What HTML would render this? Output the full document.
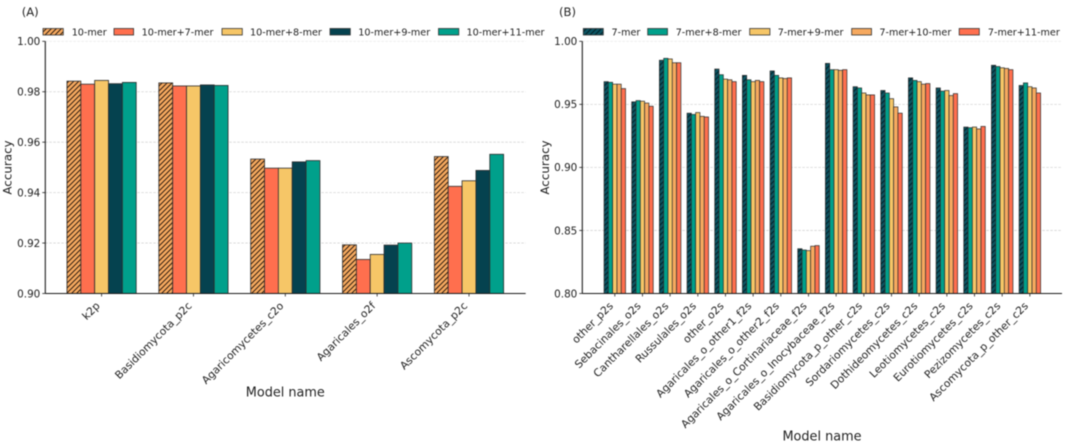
<!DOCTYPE html>
<html lang="en">
<head>
<meta charset="utf-8">
<title>Model accuracy bar charts</title>
<style>
  html, body { margin: 0; padding: 0; background: #fff; }
  body { width: 1065px; height: 447px; overflow: hidden; }
  svg { display: block; filter: blur(0.4px); }
  text { font-family: "DejaVu Sans", "Liberation Sans", sans-serif; fill: #222; }
  .leg { font-size: 9.65px; }
  .tick { font-size: 10.4px; }
  .cat { font-size: 10.7px; }
  .title { font-size: 12.85px; }
  .ytitle { font-size: 11.9px; }
  .panel { font-size: 11.6px; }
</style>
</head>
<body>
<svg id="figure" width="1065" height="447" viewBox="0 0 1065 447" xmlns="http://www.w3.org/2000/svg">
  <defs>
    <pattern id="hatch-orange" patternUnits="userSpaceOnUse" width="5" height="5">
      <rect width="5" height="5" fill="#F6A95F"/>
      <path d="M-1,1 L1,-1 M0,5 L5,0 M4,6 L6,4" stroke="#1f120a" stroke-width="0.95"/>
    </pattern>
    <pattern id="hatch-teal" patternUnits="userSpaceOnUse" width="5" height="5">
      <rect width="5" height="5" fill="#0B5563"/>
      <path d="M-1,1 L1,-1 M0,5 L5,0 M4,6 L6,4" stroke="#03222B" stroke-width="1.1"/>
    </pattern>
  </defs>

  <text class="panel" x="21.7" y="16">(A)</text>
  <text class="panel" x="559" y="16">(B)</text>

  <g id="panel-a"></g>
  <g id="panel-b"></g>

  <g>
    <g><rect x="43" y="28.5" width="20.3" height="6.5" fill="url(#hatch-orange)" stroke="#333" stroke-width="0.8"/><text class="leg" x="71.7" y="35.3">10-mer</text></g>
    <g><rect x="114" y="28.5" width="19.6" height="6.5" fill="#FF6F4E" stroke="#333" stroke-width="0.8"/><text class="leg" x="141.6" y="35.3">10-mer+7-mer</text></g>
    <g><rect x="222" y="28.5" width="20.3" height="6.5" fill="#F6C667" stroke="#333" stroke-width="0.8"/><text class="leg" x="250" y="35.3">10-mer+8-mer</text></g>
    <g><rect x="330" y="28.5" width="20.3" height="6.5" fill="#05424F" stroke="#333" stroke-width="0.8"/><text class="leg" x="358.3" y="35.3">10-mer+9-mer</text></g>
    <g><rect x="438.5" y="28.5" width="20.3" height="6.5" fill="#00A08B" stroke="#333" stroke-width="0.8"/><text class="leg" x="466.5" y="35.3">10-mer+11-mer</text></g>
  </g>
  <g>
    <g><rect x="583.3" y="28.5" width="20" height="6.5" fill="url(#hatch-teal)" stroke="#333" stroke-width="0.8"/><text class="leg" x="611.5" y="35.3">7-mer</text></g>
    <g><rect x="647.7" y="28.5" width="19.8" height="6.5" fill="#00A08B" stroke="#333" stroke-width="0.8"/><text class="leg" x="675.7" y="35.3">7-mer+8-mer</text></g>
    <g><rect x="749.7" y="28.5" width="20.2" height="6.5" fill="#F6C667" stroke="#333" stroke-width="0.8"/><text class="leg" x="777.7" y="35.3">7-mer+9-mer</text></g>
    <g><rect x="851.7" y="28.5" width="19.8" height="6.5" fill="#F6A95F" stroke="#333" stroke-width="0.8"/><text class="leg" x="879.4" y="35.3">7-mer+10-mer</text></g>
    <g><rect x="959.2" y="28.5" width="20.1" height="6.5" fill="#FF6F4E" stroke="#333" stroke-width="0.8"/><text class="leg" x="987.9" y="35.3">7-mer+11-mer</text></g>
  </g>

  <text class="title" x="285.3" y="396.7" text-anchor="middle">Model name</text>
  <text class="title" x="822" y="440.7" text-anchor="middle">Model name</text>
  <text class="ytitle" transform="translate(11.3,167.5) rotate(-90)" text-anchor="middle">Accuracy</text>
  <text class="ytitle" transform="translate(549,167.5) rotate(-90)" text-anchor="middle">Accuracy</text>
</svg>

<script>
// Panel A data
const categoriesA = ["k2p", "Basidiomycota_p2c", "Agaricomycetes_c2o", "Agaricales_o2f", "Ascomycota_p2c"];
const tickLabelsA = ["0.90", "0.92", "0.94", "0.96", "0.98", "1.00"];
const mer10 = [0.9842, 0.9835, 0.9533, 0.9193, 0.9543];
const mer10plus7 = [0.9830, 0.9823, 0.9497, 0.9135, 0.9425];
const mer10plus8 = [0.9845, 0.9823, 0.9497, 0.9155, 0.9447];
const mer10plus9 = [0.9832, 0.9827, 0.9522, 0.9192, 0.9488];
const mer10plus11 = [0.9837, 0.9825, 0.9527, 0.9200, 0.9552];

// Panel B data
const categoriesB = ["other_p2s", "Sebacinales_o2s", "Cantharellales_o2s", "Russulales_o2s", "other_o2s",
  "Agaricales_o_other1_f2s", "Agaricales_o_other2_f2s", "Agaricales_o_Cortinariaceae_f2s",
  "Agaricales_o_Inocybaceae_f2s", "Basidiomycota_p_other_c2s", "Sordariomycetes_c2s", "Dothideomycetes_c2s",
  "Leotiomycetes_c2s", "Eurotiomycetes_c2s", "Pezizomycetes_c2s", "Ascomycota_p_other_c2s"];
const tickLabelsB = ["0.80", "0.85", "0.90", "0.95", "1.00"];
const mer7 = [0.968, 0.952, 0.985, 0.943, 0.978, 0.973, 0.9765, 0.8355, 0.9825, 0.964, 0.961, 0.971, 0.963, 0.932, 0.981, 0.965];
const mer7plus8 = [0.9675, 0.953, 0.9865, 0.942, 0.9735, 0.9695, 0.973, 0.8345, 0.9775, 0.963, 0.959, 0.969, 0.9605, 0.9315, 0.980, 0.967];
const mer7plus9 = [0.966, 0.9525, 0.986, 0.9435, 0.970, 0.968, 0.971, 0.834, 0.9775, 0.959, 0.9545, 0.968, 0.961, 0.932, 0.979, 0.964];
const mer7plus10 = [0.966, 0.951, 0.983, 0.9405, 0.9695, 0.969, 0.9705, 0.8375, 0.977, 0.9575, 0.948, 0.966, 0.957, 0.9305, 0.9785, 0.963];
const mer7plus11 = [0.9625, 0.9485, 0.983, 0.940, 0.968, 0.968, 0.971, 0.838, 0.9775, 0.9575, 0.943, 0.9665, 0.9585, 0.9325, 0.9775, 0.959];

const NS = "http://www.w3.org/2000/svg";

function make(tag, attrs, parent) {
  const el = document.createElementNS(NS, tag);
  for (const k in attrs) el.setAttribute(k, attrs[k]);
  parent.appendChild(el);
  return el;
}

function drawPanel(cfg) {
  const root = document.getElementById(cfg.id);
  const n = cfg.categories.length;
  const yScale = v => cfg.yBottom - (v - cfg.yMin) / (cfg.yMax - cfg.yMin) * (cfg.yBottom - cfg.yTop);
  const xScale = i => cfg.xFirst + i * cfg.xStep;

  // gridlines and y ticks
  cfg.tickLabels.forEach(label => {
    const y = yScale(parseFloat(label));
    if (parseFloat(label) > cfg.yMin) {
      const grid = make("line", { x1: cfg.axisX, x2: cfg.axisEnd, y1: y, y2: y, stroke: "#d4d4d4", "stroke-width": 0.8, "stroke-dasharray": "2.5 1.5", opacity: parseFloat(label) === cfg.yMax ? 0.45 : 1 }, root);
      
      
    }
    const tick = make("line", { x1: cfg.axisX - 3, x2: cfg.axisX, y1: y, y2: y, stroke: "#222", "stroke-width": 0.8 }, root);
    
    
    const text = make("text", { class: "tick", x: cfg.axisX - 5, y: y + 3.8, "text-anchor": "end" }, root);
    text.textContent = label;
    
    
  });

  // bars
  cfg.series.forEach((s, j) => {
    s.values.forEach((v, i) => {
      const x = xScale(i) + (j - cfg.series.length / 2) * cfg.barWidth;
      const y = yScale(v);
      const bar = make("rect", { x: x, y: y, width: cfg.barWidth, height: cfg.yBottom - y, fill: s.fill, stroke: "#2d2d2d", "stroke-width": cfg.barStroke }, root);
      
      
    });
  });

  // x ticks and category labels
  for (let i = 0; i < n; i++) {
    const x = xScale(i);
    const tick = make("line", { x1: x, x2: x, y1: cfg.yBottom, y2: cfg.yBottom + 3, stroke: "#222", "stroke-width": 0.8 }, root);
    
    
    const ax = x - 1;
    const ay = cfg.yBottom + 13;
    const text = make("text", { class: "cat", "text-anchor": "end", transform: "translate(" + ax + "," + ay + ") rotate(-45)" }, root);
    text.textContent = cfg.categories[i];
    
    
  }

  // spines
  const spineY = make("line", { x1: cfg.axisX, x2: cfg.axisX, y1: cfg.yTop, y2: cfg.yBottom, stroke: "#1c1c1c", "stroke-width": 1.1 }, root);
  
  
  const spineX = make("line", { x1: cfg.axisX, x2: cfg.axisEnd, y1: cfg.yBottom, y2: cfg.yBottom, stroke: "#1c1c1c", "stroke-width": 1.1 }, root);
  
  
}

drawPanel({
  id: "panel-a", categories: categoriesA, tickLabels: tickLabelsA,
  yMin: 0.90, yMax: 1.00, yTop: 41.3, yBottom: 293.5,
  axisX: 45.3, axisEnd: 525.7, xFirst: 101.6, xStep: 91.85, barWidth: 13.85, barStroke: 0.8,
  series: [
    { values: mer10, fill: "url(#hatch-orange)" },
    { values: mer10plus7, fill: "#FF6F4E" },
    { values: mer10plus8, fill: "#F6C667" },
    { values: mer10plus9, fill: "#05424F" },
    { values: mer10plus11, fill: "#00A08B" }
  ]
});

drawPanel({
  id: "panel-b", categories: categoriesB, tickLabels: tickLabelsB,
  yMin: 0.80, yMax: 1.00, yTop: 41.3, yBottom: 293.5,
  axisX: 582.3, axisEnd: 1062, xFirst: 614.8, xStep: 27.67, barWidth: 4.3, barStroke: 0.7,
  series: [
    { values: mer7, fill: "url(#hatch-teal)" },
    { values: mer7plus8, fill: "#00A08B" },
    { values: mer7plus9, fill: "#F6C667" },
    { values: mer7plus10, fill: "#F6A95F" },
    { values: mer7plus11, fill: "#FF6F4E" }
  ]
});
</script>
</body>
</html>
